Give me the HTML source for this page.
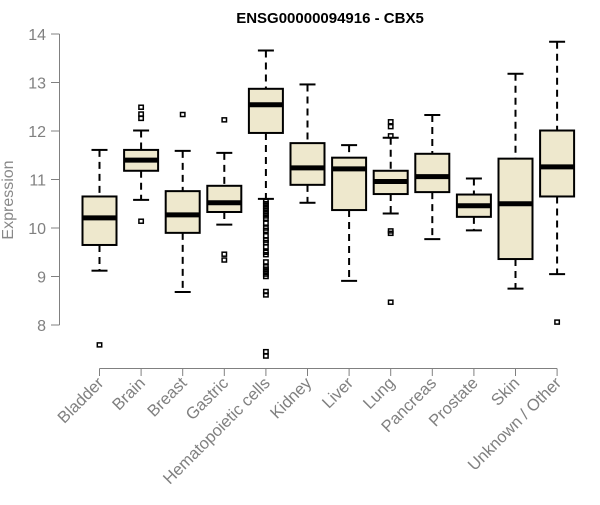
<!DOCTYPE html>
<html><head><meta charset="utf-8"><style>
body{margin:0;background:#fff}
svg{font-family:"Liberation Sans",Arial,sans-serif}
</style></head><body>
<svg id="chart" width="600" height="500" viewBox="0 0 600 500" xmlns="http://www.w3.org/2000/svg">
<text x="330" y="23" text-anchor="middle" font-size="15" font-weight="bold" fill="#000">ENSG00000094916 - CBX5</text>
<text transform="translate(13,200) rotate(-90)" text-anchor="middle" font-size="16" fill="#888">Expression</text>
<g id="axes"></g>
<g id="boxes"></g>
</svg>
<script>
const categories=["Bladder","Brain","Breast","Gastric","Hematopoietic cells","Kidney","Liver","Lung","Pancreas","Prostate","Skin","Unknown / Other"];
const whiskerLow=[9.12,10.58,8.68,10.07,10.60,10.52,8.91,10.30,9.77,9.95,8.75,9.05];
const q1=[9.65,11.18,9.90,10.33,11.96,10.89,10.37,10.70,10.74,10.23,9.36,10.65];
const medians=[10.21,11.40,10.27,10.52,12.54,11.24,11.22,10.96,11.06,10.46,10.50,11.26];
const q3=[10.65,11.61,10.76,10.87,12.87,11.75,11.45,11.18,11.53,10.69,11.43,12.01];
const whiskerHigh=[11.61,12.01,11.59,11.55,13.66,12.96,11.71,11.86,12.33,11.02,13.18,13.84];
const outliers=[[7.59],[12.49,12.35,12.26,10.14],[12.34],[12.23,9.46,9.34],
[10.55,10.5,10.45,10.4,10.35,10.3,10.25,10.2,10.1,10.0,9.95,9.84,9.75,9.7,9.61,9.5,9.45,9.3,9.2,9.15,9.1,9.05,9.0,8.69,8.62,7.45,7.36],
[],[],[12.19,12.09,11.90,9.94,9.89,8.47],[],[],[],[8.06]];
const yTicks=[8,9,10,11,12,13,14];
const NS="http://www.w3.org/2000/svg";
function y(v){return 34+(14-v)*48.5;}
function x(i){return 99.5+i*41.6;}
function mk(tag,attrs,parent,name){const e=document.createElementNS(NS,tag);for(const k in attrs)e.setAttribute(k,attrs[k]);


parent.appendChild(e);return e;}
const axes=document.getElementById('axes'),boxes=document.getElementById('boxes');
const g="#808080";
mk('line',{x1:59.5,x2:59.5,y1:y(14),y2:y(8),stroke:g},axes,'y-axis-line');
yTicks.forEach(t=>{mk('line',{x1:51,x2:59.5,y1:y(t),y2:y(t),stroke:g},axes,'y-tick');
const tx=mk('text',{x:46,y:y(t)+6,'text-anchor':'end','font-size':16,fill:g},axes,'y-tick-label');tx.textContent=t;});
mk('line',{x1:x(0),x2:x(categories.length-1),y1:368.5,y2:368.5,stroke:g},axes,'x-axis-line');
categories.forEach((c,i)=>{mk('line',{x1:x(i),x2:x(i),y1:368.5,y2:376,stroke:g},axes,'x-tick');
const tx=mk('text',{transform:`translate(${x(i)+5},384) rotate(-45)`,'text-anchor':'end','font-size':16.5,fill:g},axes,'x-tick-label');tx.textContent=c;});
categories.forEach((c,i)=>{const cx=x(i),hw=17,cw=8;
const grp=mk('g',{},boxes,'box-'+c.toLowerCase().replace(/[^a-z]+/g,'-'));
mk('line',{x1:cx,x2:cx,y1:y(whiskerHigh[i]),y2:y(q3[i]),stroke:'#000','stroke-width':2,'stroke-dasharray':'7,5'},grp,'upper-whisker');
mk('line',{x1:cx,x2:cx,y1:y(q1[i]),y2:y(whiskerLow[i]),stroke:'#000','stroke-width':2,'stroke-dasharray':'7,5'},grp,'lower-whisker');
mk('line',{x1:cx-cw,x2:cx+cw,y1:y(whiskerHigh[i]),y2:y(whiskerHigh[i]),stroke:'#000','stroke-width':2},grp,'upper-cap');
mk('line',{x1:cx-cw,x2:cx+cw,y1:y(whiskerLow[i]),y2:y(whiskerLow[i]),stroke:'#000','stroke-width':2},grp,'lower-cap');
mk('rect',{x:cx-hw,y:y(q3[i]),width:2*hw,height:y(q1[i])-y(q3[i]),fill:'#EEE8CD',stroke:'#000','stroke-width':2},grp,'box');
mk('line',{x1:cx-hw,x2:cx+hw,y1:y(medians[i]),y2:y(medians[i]),stroke:'#000','stroke-width':5},grp,'median-line');
outliers[i].forEach(o=>mk('rect',{x:cx-2.2,y:y(o)-2,width:4.4,height:4,fill:'none',stroke:'#000','stroke-width':1.5},grp,'outlier'));
});
</script>
</body></html>
